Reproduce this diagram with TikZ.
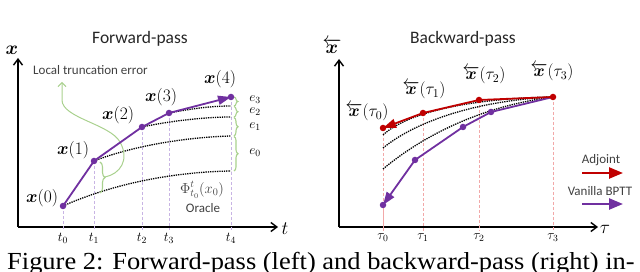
\RequirePackage{fix-cm}
\documentclass[tikz,border=0pt]{standalone}
\usepackage{amsmath,bm}
\usepackage{fontspec}
\newfontfamily\calibri{Carlito}
\newfontfamily\timesf{Liberation Serif}
\usetikzlibrary{arrows.meta,decorations.pathreplacing}
\definecolor{fpurple}{HTML}{7030A0}
\definecolor{fred}{HTML}{C00000}
\definecolor{fgreen}{HTML}{A9D18E}
\definecolor{flav}{HTML}{C8B4E4}
\definecolor{fpink}{HTML}{F2A8A8}
\definecolor{ftext}{HTML}{404040}
\tikzset{
  axisline/.style={line width=1.4pt,-{Straight Barb[length=6pt,width=9pt,line width=1.4pt]}},
  ptdot/.style={circle,inner sep=0pt,minimum size=6.5pt},
  vguide/.style={dashed,line width=0.7pt,dash pattern=on 3pt off 2pt},
  oracle/.style={densely dotted,line width=1.3pt,black},
  lbl/.style={font=\fontsize{17.5}{19}\selectfont,inner sep=1pt},
  rlbl/.style={font=\fontsize{17}{19}\selectfont,inner sep=1pt},
  tick/.style={font=\fontsize{13.5}{15}\selectfont},
  sanslbl/.style={font=\calibri\fontsize{13}{15}\selectfont,text=ftext,inner sep=1pt},
  title/.style={font=\calibri\fontsize{17.5}{20}\selectfont,text=black!85},
  gbrace/.style={fgreen,line width=1.1pt,decorate,decoration={brace,amplitude=4pt}},
  elbl/.style={font=\fontsize{13.5}{15}\selectfont,inner sep=1pt},
}
\begin{document}
\begin{tikzpicture}[x=1pt,y=-1pt]
\useasboundingbox (0,0) rectangle (640,272);
\clip (0,0) rectangle (640,272);
% ---------------- Left panel ----------------
\node[title] (ftitle) at (140,39) {Forward-pass};
\coordinate (lo) at (18,227);
\coordinate (ly) at (18,58);
\coordinate (lx) at (278,227);
\draw[axisline] (lo) -- (ly);
\draw[axisline] (lo) -- (lx);
\node[lbl,font=\fontsize{19}{20}\selectfont] (laxy) at (12,50) {$\bm{x}$};
\node[lbl,font=\fontsize{19}{20}\selectfont] (laxt) at (285,229) {$t$};
% points
\coordinate (p0) at (63,206);
\coordinate (p1) at (94,161);
\coordinate (p2) at (142,127);
\coordinate (p3) at (169,113);
\coordinate (p4) at (231,97);
% oracle ends
\coordinate (q0) at (231,171);
\coordinate (q1) at (231,136);
\coordinate (q2) at (231,117);
\coordinate (q3) at (231,106);
% guides
\foreach \p/\x in {p0/63,p1/94,p2/142,p3/169,p4/231}{
  \draw[vguide,flav] (\p) -- (\x,230);
}
% oracle curves
\draw[oracle] (p0) .. controls (110,185) and (170,172) .. (q0);
\draw[oracle] (p1) .. controls (135,145) and (190,137) .. (q1);
\draw[oracle] (p2) .. controls (170,121) and (205,117) .. (q2);
\draw[oracle] (p3) .. controls (190,109) and (210,106) .. (q3);
% local truncation brace and arrow
\coordinate (lb1) at (100,162);
\coordinate (lb2) at (100,193);
\draw[gbrace,decoration={amplitude=5pt}] (lb1) -- (lb2);
\coordinate (ltip) at (105,177);
\coordinate (larr) at (62,82);
\draw[fgreen,line width=1pt,-{Straight Barb[length=4pt,width=8pt]}] (ltip) .. controls (120,174) and (130,160) .. (120,142)
   .. controls (110,124) and (62,118) .. (62,100) -- (larr);
\node[sanslbl,anchor=west] (ltrunc) at (32,70) {Local truncation error};
% right-side braces
\draw[gbrace] (234,97) -- (234,106) coordinate[midway] (b3);
\draw[gbrace] (234,106.5) -- (234,117) coordinate[midway] (b2);
\draw[gbrace] (234,117.5) -- (234,136) coordinate[midway] (b1);
\draw[gbrace] (234,136.5) -- (234,171) coordinate[midway] (b0);
\node[elbl] (e3) at (255,100) {$e_3$};
\node[elbl] (e2) at (255,112) {$e_2$};
\node[elbl] (e1) at (255,127) {$e_1$};
\node[elbl] (e0) at (255,153) {$e_0$};
% forward purple path
\draw[fpurple,line width=1.8pt,line join=round,-{Triangle[length=13pt,width=9pt]}] (p0) -- (p1) -- (p2) -- (p3) -- (p4);
\foreach \p in {p0,p1,p2,p3,p4}{ \node[ptdot,fill=fpurple] at (\p) {}; }
% labels
\node[lbl] (lx0) at (42,198) {$\bm{x}(0)$};
\node[lbl] (lx1) at (73,150) {$\bm{x}(1)$};
\node[lbl] (lx2) at (118,115) {$\bm{x}(2)$};
\node[lbl] (lx3) at (161,97) {$\bm{x}(3)$};
\node[lbl] (lx4) at (220,79) {$\bm{x}(4)$};
\node[font=\fontsize{14.5}{16}\selectfont,text=ftext,inner sep=0pt] (phi) at (202,190) {$\Phi^{t}_{t_0}(x_0)$};
\node[sanslbl] (orc) at (203,208) {Oracle};
\foreach \x/\i in {63/0,94/1,142/2,169/3,231/4}{
  \node[tick] at (\x,238) {$t_\i$};
}
% ---------------- Right panel ----------------
\node[title] (btitle) at (463,39) {Backward-pass};
\coordinate (ro) at (339,227);
\coordinate (ry) at (339,59);
\coordinate (rx) at (598,227);
\draw[axisline] (ro) -- (ry);
\draw[axisline] (ro) -- (rx);
\node[lbl,font=\fontsize{19}{20}\selectfont,inner sep=0pt] (raxy) at (332,46) {$\overleftarrow{\bm{x}}$};
\node[lbl,font=\fontsize{19}{20}\selectfont] (raxt) at (605,229) {$\tau$};
\coordinate (r0) at (383,128);
\coordinate (r1) at (423,113);
\coordinate (r2) at (479,100);
\coordinate (r3) at (553,97);
\foreach \p/\x in {r0/383,r1/423,r2/479,r3/553}{
  \draw[vguide,fpink] (\p) -- (\x,231);
}
\draw[vguide,fpink] (383,205) -- (383,231);
% oracle curves backward
\coordinate (c1) at (383,135);
\coordinate (c2) at (383,148);
\coordinate (c3) at (383,169);
\draw[oracle] (c1) .. controls (410,110) and (480,98) .. (r3);
\draw[oracle] (c2) .. controls (420,118) and (485,100) .. (r3);
\draw[oracle] (c3) .. controls (430,130) and (490,105) .. (r3);
% purple backward path
\coordinate (v1) at (491,112);
\coordinate (v2) at (463,127);
\coordinate (v3) at (415,160);
\coordinate (v4) at (383,205);
\draw[fpurple,line width=1.8pt,line join=round,-{Triangle[length=13pt,width=9pt]}] (r3) -- (v1) -- (v2) -- (v3) -- (v4);
\foreach \p in {v1,v2,v3,v4}{ \node[ptdot,fill=fpurple] at (\p) {}; }
% red adjoint path
\draw[fred,line width=1.8pt,line join=round,-{Triangle[length=13pt,width=9pt]}] (r3) -- (r2) -- (r1) -- (r0);
\foreach \p in {r0,r1,r2,r3}{ \node[ptdot,fill=fred] at (\p) {}; }
\node[rlbl] (lr0) at (367,112) {$\overleftarrow{\bm{x}}(\tau_0)$};
\node[rlbl] (lr1) at (424,90) {$\overleftarrow{\bm{x}}(\tau_1)$};
\node[rlbl] (lr2) at (484,75) {$\overleftarrow{\bm{x}}(\tau_2)$};
\node[rlbl] (lr3) at (552,72) {$\overleftarrow{\bm{x}}(\tau_3)$};
\foreach \x/\i in {383/0,423/1,479/2,553/3}{
  \node[tick] at (\x,238) {$\tau_\i$};
}
% legend
\node[sanslbl] (ladj) at (601,160) {Adjoint};
\node[sanslbl] (lbptt) at (600,191) {Vanilla BPTT};
\coordinate (a1) at (582,173);
\coordinate (a2) at (623,173);
\coordinate (a3) at (582,204);
\coordinate (a4) at (623,204);
\draw[fred,line width=2.4pt,-{Triangle[length=14pt,width=11pt]}] (a1) -- (a2);
\draw[fpurple,line width=2.4pt,-{Triangle[length=14pt,width=11pt]}] (a3) -- (a4);
% caption
\node[font=\timesf\fontsize{24.5}{27}\selectfont,anchor=base west,inner sep=0pt] (cap) at (7,270) {\scalebox{1.08}[1]{Figure 2: Forward-pass (left) and backward-pass (right) in-}};
\end{tikzpicture}
\end{document}
